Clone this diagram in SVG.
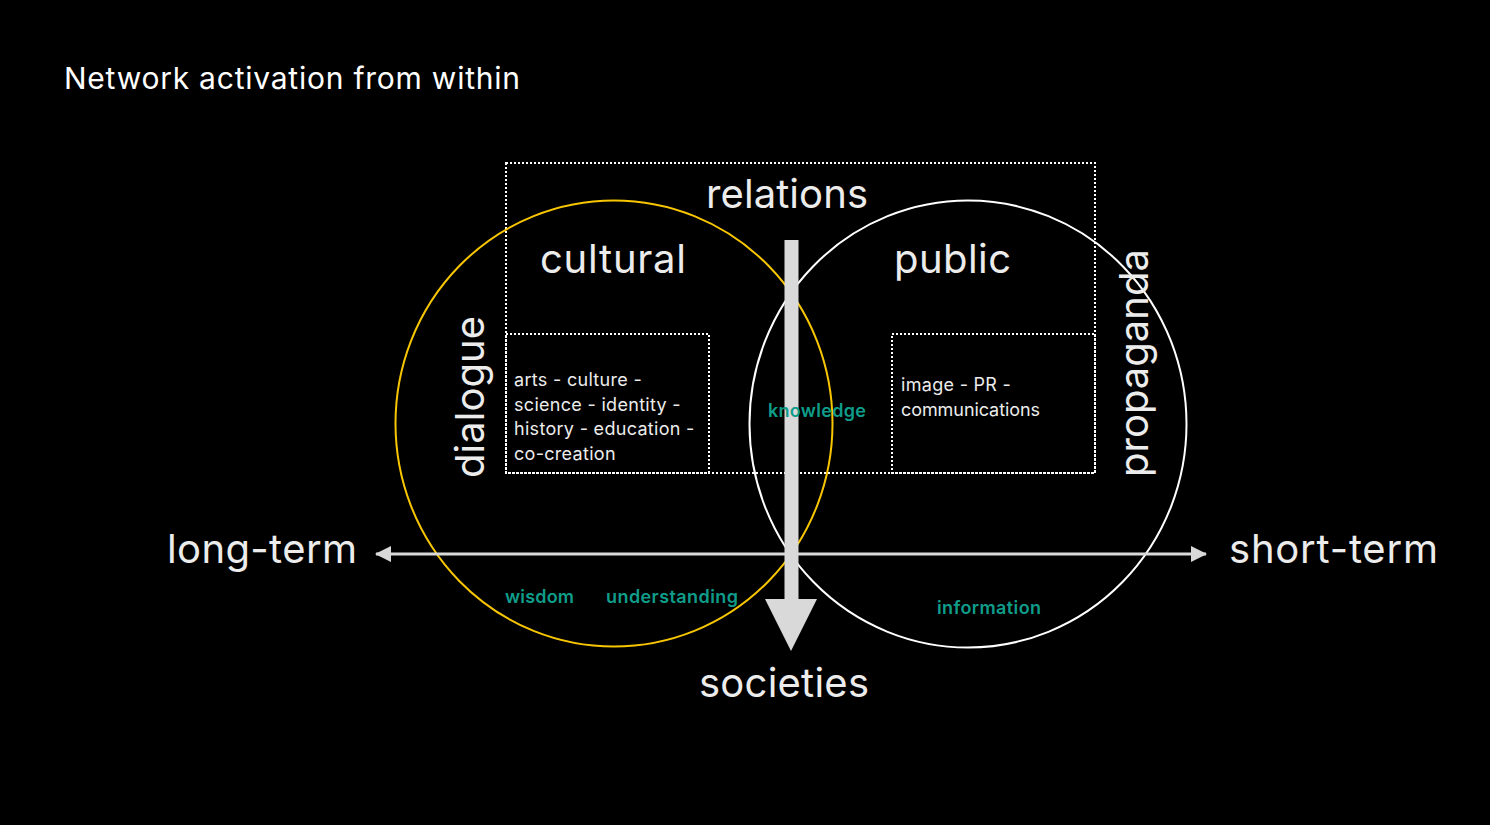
<svg xmlns="http://www.w3.org/2000/svg" width="1490" height="825" viewBox="0 0 1490 825">
  <style>
    .big { font-family: Inter, "Liberation Sans", sans-serif; font-size: 40px; fill: #ececec; }
    .small { font-family: Inter, "Liberation Sans", sans-serif; font-size: 18px; fill: #ececec; letter-spacing: 0.3px; }
    .green { font-family: Inter, "Liberation Sans", sans-serif; font-size: 18px; font-weight: 600; fill: #0f9d8a; }
    .dotted { fill: none; stroke: #ffffff; stroke-width: 2; stroke-dasharray: 2 2; }
    .axis { stroke: #d9d9d9; stroke-width: 3; fill: none; }
  </style>
  <defs>
    <marker id="ah" viewBox="0 0 16 16" refX="15" refY="8" markerWidth="16" markerHeight="16" markerUnits="userSpaceOnUse" orient="auto-start-reverse">
      <path d="M0,0 L16,8 L0,16 Z" fill="#d9d9d9"/>
    </marker>
  </defs>
  <rect x="0" y="0" width="1490" height="825" fill="#000000"/>

  <g id="title">
    <text x="64" y="89" font-family="Inter, 'Liberation Sans', sans-serif" font-size="30" fill="#ffffff" textLength="456" lengthAdjust="spacing">Network activation from within</text>
  </g>

  <g id="relations-box">
    <rect class="dotted" x="506" y="163" width="589" height="310"/>
    <text class="big" x="706" y="208" textLength="162" lengthAdjust="spacing">relations</text>
  </g>

  <g id="cultural-circle">
    <ellipse cx="614" cy="423.5" rx="218.5" ry="223" fill="none" stroke="#f7c600" stroke-width="2"/>
    <text class="big" x="540" y="273" textLength="146" lengthAdjust="spacing">cultural</text>
  </g>

  <g id="public-circle">
    <ellipse cx="968" cy="424" rx="218.5" ry="223.5" fill="none" stroke="#ffffff" stroke-width="2"/>
    <text class="big" x="894" y="273" textLength="117" lengthAdjust="spacing">public</text>
  </g>

  <g id="cultural-box">
    <rect class="dotted" x="506" y="334" width="203" height="139"/>
    <text class="small" x="514" y="386">arts - culture -</text>
    <text class="small" x="514" y="411">science - identity -</text>
    <text class="small" x="514" y="435">history - education -</text>
    <text class="small" x="514" y="460">co-creation</text>
  </g>

  <g id="public-box">
    <rect class="dotted" x="892" y="334" width="203" height="139"/>
    <text class="small" x="901" y="391">image - PR -</text>
    <text class="small" x="901" y="416" style="letter-spacing:0" textLength="139" lengthAdjust="spacing">communications</text>
  </g>

  <g id="dialogue">
    <text class="big" transform="translate(484,478) rotate(-90)" textLength="162" lengthAdjust="spacing">dialogue</text>
  </g>
  <g id="propaganda">
    <text class="big" transform="translate(1148,477) rotate(-90)" textLength="228" lengthAdjust="spacing">propaganda</text>
  </g>

  <g id="connectors">
    <line class="axis" x1="376" y1="554" x2="1206" y2="554" marker-start="url(#ah)" marker-end="url(#ah)"/>
    <rect x="784.5" y="240" width="14" height="360" fill="#d9d9d9"/>
    <polygon points="765,599 817,599 791,651" fill="#d9d9d9"/>
  </g>

  <g id="long-term">
    <text class="big" x="167" y="563" textLength="190" lengthAdjust="spacing">long-term</text>
  </g>
  <g id="short-term">
    <text class="big" x="1229" y="563" textLength="209" lengthAdjust="spacing">short-term</text>
  </g>
  <g id="societies">
    <text class="big" x="699" y="697" textLength="170" lengthAdjust="spacing">societies</text>
  </g>

  <g id="knowledge"><text class="green" x="768" y="417" textLength="98" lengthAdjust="spacing">knowledge</text></g>
  <g id="wisdom"><text class="green" x="505" y="603" textLength="69" lengthAdjust="spacing">wisdom</text></g>
  <g id="understanding"><text class="green" x="606" y="603" textLength="132" lengthAdjust="spacing">understanding</text></g>
  <g id="information"><text class="green" x="937" y="614" textLength="104" lengthAdjust="spacing">information</text></g>
</svg>
